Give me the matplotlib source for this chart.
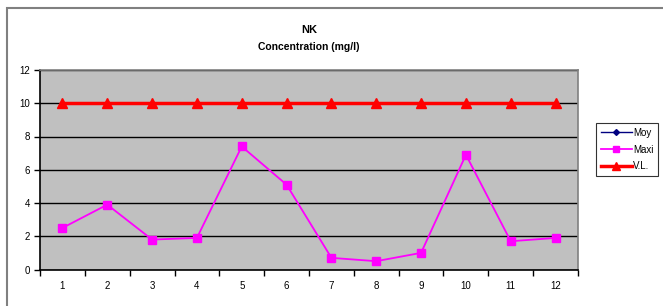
import numpy as np
import matplotlib
matplotlib.use("Agg")
import matplotlib.pyplot as plt
from matplotlib.patches import Rectangle
from matplotlib.ticker import FixedLocator

plt.rcParams['font.family'] = ['Liberation Sans', 'DejaVu Sans']

# data
categories = list(range(1, 13))
moy = [np.nan] * 12                 # no values plotted, legend only
maxi = [2.5, 3.9, 1.8, 1.9, 7.4, 5.1, 0.7, 0.5, 1.0, 6.9, 1.7, 1.9]
vl = [10] * 12
yticks = [0, 2, 4, 6, 8, 10, 12]

fig = plt.figure(figsize=(6.63, 3.06), dpi=100)
fig.patch.set_facecolor("white")

# outer chart border (runs past the right/bottom edge in the reference)
fig.patches.append(Rectangle((7 / 663, -0.2), 1.2, 1.2 - 8 / 306,
                             transform=fig.transFigure, fill=False,
                             edgecolor="#808080", linewidth=1.5))

ax = fig.add_axes([40 / 663, 1 - 269.5 / 306, (578 - 40) / 663, (269.5 - 70) / 306])
ax.set_facecolor("#C0C0C0")

ax.plot(categories, moy, color="#000080", marker="D", markersize=3.5, linewidth=1, label="Moy")
ax.plot(categories, maxi, color="#FF00FF", marker="s", markersize=5.5, linewidth=1.3, label="Maxi")
ax.plot(categories, vl, color="#FF0000", marker="^", markersize=6.5, linewidth=2.5, label="V.L.")

ax.set_xlim(0.5, 12.5)
ax.set_ylim(0, 12)
ax.set_yticks(yticks)
ax.set_xticks(categories)
ax.xaxis.set_minor_locator(FixedLocator(np.arange(0.5, 13, 1)))
ax.tick_params(axis="x", which="major", length=0, labelsize=7, pad=8)
ax.tick_params(axis="x", which="minor", length=4, width=1, direction="out")
ax.tick_params(axis="y", length=4, width=1, direction="out", labelsize=7, pad=3)
ax.yaxis.grid(True, color="black", linewidth=1)
ax.set_axisbelow(True)

for side in ["top", "right"]:
    ax.spines[side].set_color("#808080")
    ax.spines[side].set_linewidth(1.2)
for side in ["left", "bottom"]:
    ax.spines[side].set_color("black")
    ax.spines[side].set_linewidth(1.2)

fig.text(309 / 663, 1 - 30 / 306, "NK", ha="center", va="center", fontsize=8, fontweight="bold")
fig.text(309 / 663, 1 - 47 / 306, "Concentration (mg/l)", ha="center", va="center",
         fontsize=7.5, fontweight="bold")

leg = ax.legend(loc="upper left", bbox_to_anchor=(596 / 663, 1 - 123 / 306),
                bbox_transform=fig.transFigure, fontsize=7, frameon=True,
                fancybox=False, edgecolor="black", handlelength=3.2, markerscale=0.85,
                borderpad=0.5, labelspacing=0.7, handletextpad=0.1, borderaxespad=0)
leg.get_frame().set_linewidth(0.8)

fig.savefig("out.png", dpi=100)
